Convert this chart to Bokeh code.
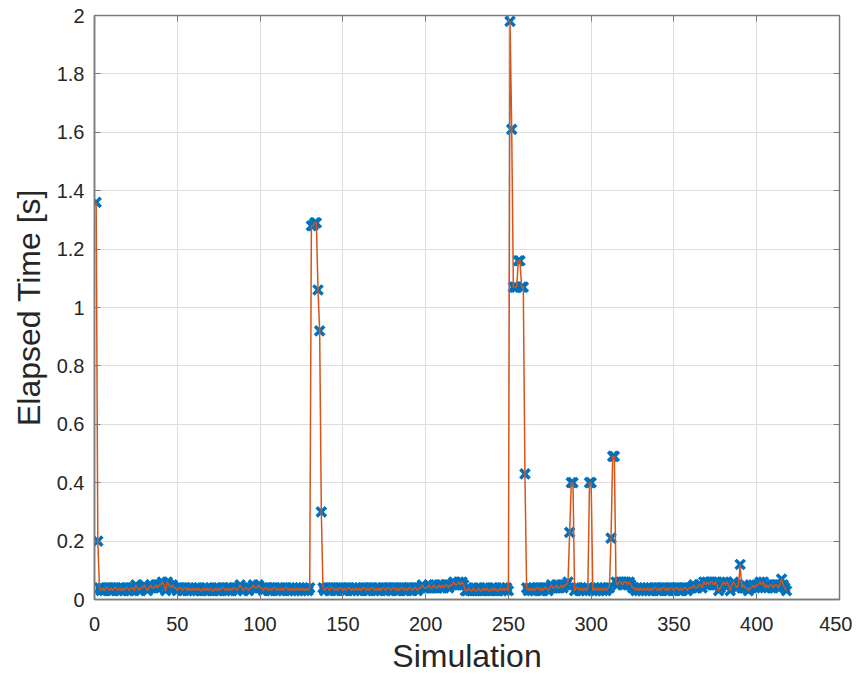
from bokeh.plotting import figure
from bokeh.models import LinearAxis, FixedTicker, NumeralTickFormatter, Range1d
from bokeh.embed import file_html
from bokeh.resources import INLINE

# Elapsed time per simulation, simulations 1..418
elapsed = [
    1.36, 0.20, 0.04, 0.03, 0.04, 0.03, 0.04, 0.04, 0.03, 0.04, 0.03, 0.04, 0.04, 0.03, 0.04, 0.03, 0.04, 0.03, 0.04, 0.04,
    0.03, 0.04, 0.04, 0.03, 0.05, 0.04, 0.03, 0.04, 0.04, 0.05, 0.04, 0.03, 0.04, 0.05, 0.04, 0.04, 0.05, 0.04, 0.05, 0.05,
    0.06, 0.05, 0.03, 0.06, 0.05, 0.04, 0.05, 0.04, 0.04, 0.03, 0.04, 0.04, 0.03, 0.04, 0.04, 0.03, 0.04, 0.03, 0.04, 0.03,
    0.04, 0.03, 0.04, 0.03, 0.03, 0.04, 0.03, 0.04, 0.03, 0.04, 0.03, 0.03, 0.04, 0.03, 0.04, 0.03, 0.04, 0.04, 0.03, 0.04,
    0.03, 0.04, 0.03, 0.04, 0.04, 0.03, 0.04, 0.05, 0.04, 0.03, 0.04, 0.04, 0.03, 0.04, 0.04, 0.05, 0.04, 0.04, 0.05, 0.04,
    0.04, 0.03, 0.04, 0.04, 0.03, 0.04, 0.03, 0.04, 0.04, 0.03, 0.04, 0.03, 0.04, 0.03, 0.04, 0.04, 0.03, 0.04, 0.03, 0.04,
    0.03, 0.04, 0.03, 0.04, 0.03, 0.04, 0.03, 0.04, 0.03, 0.04, 1.28, 1.28, 1.29, 1.29, 1.06, 0.92, 0.30, 0.04, 0.03, 0.04,
    0.04, 0.03, 0.04, 0.04, 0.03, 0.04, 0.03, 0.04, 0.04, 0.03, 0.04, 0.03, 0.04, 0.04, 0.03, 0.04, 0.03, 0.04, 0.03, 0.04,
    0.03, 0.04, 0.04, 0.03, 0.04, 0.03, 0.04, 0.04, 0.03, 0.04, 0.03, 0.04, 0.03, 0.04, 0.04, 0.03, 0.04, 0.04, 0.03, 0.04,
    0.04, 0.03, 0.04, 0.03, 0.04, 0.04, 0.03, 0.04, 0.03, 0.04, 0.04, 0.03, 0.04, 0.04, 0.03, 0.04, 0.04, 0.05, 0.04, 0.04,
    0.04, 0.05, 0.04, 0.04, 0.05, 0.04, 0.04, 0.05, 0.04, 0.05, 0.04, 0.05, 0.05, 0.04, 0.05, 0.05, 0.06, 0.05, 0.05, 0.06,
    0.05, 0.06, 0.05, 0.03, 0.03, 0.04, 0.03, 0.03, 0.04, 0.03, 0.03, 0.04, 0.03, 0.03, 0.04, 0.03, 0.04, 0.03, 0.03, 0.04,
    0.03, 0.04, 0.03, 0.03, 0.04, 0.03, 0.04, 0.03, 0.04, 0.03, 1.98, 1.61, 1.07, 1.07, 1.07, 1.16, 1.16, 1.07, 1.07, 0.43,
    0.04, 0.03, 0.04, 0.03, 0.04, 0.03, 0.04, 0.04, 0.03, 0.04, 0.03, 0.04, 0.04, 0.03, 0.04, 0.05, 0.04, 0.04, 0.05, 0.04,
    0.04, 0.05, 0.04, 0.05, 0.05, 0.06, 0.23, 0.40, 0.40, 0.03, 0.04, 0.04, 0.03, 0.04, 0.03, 0.04, 0.03, 0.04, 0.40, 0.40,
    0.03, 0.04, 0.03, 0.04, 0.03, 0.04, 0.03, 0.04, 0.03, 0.04, 0.04, 0.21, 0.49, 0.49, 0.06, 0.05, 0.06, 0.06, 0.05, 0.06,
    0.06, 0.05, 0.06, 0.05, 0.04, 0.04, 0.03, 0.04, 0.03, 0.04, 0.03, 0.04, 0.03, 0.04, 0.03, 0.04, 0.03, 0.04, 0.04, 0.03,
    0.04, 0.03, 0.04, 0.04, 0.03, 0.04, 0.03, 0.04, 0.04, 0.03, 0.04, 0.04, 0.03, 0.04, 0.03, 0.04, 0.04, 0.03, 0.04, 0.04,
    0.04, 0.05, 0.04, 0.04, 0.05, 0.05, 0.04, 0.06, 0.05, 0.06, 0.05, 0.06, 0.06, 0.05, 0.06, 0.05, 0.03, 0.04, 0.05, 0.06,
    0.05, 0.06, 0.05, 0.03, 0.05, 0.06, 0.05, 0.04, 0.05, 0.12, 0.04, 0.05, 0.04, 0.04, 0.03, 0.04, 0.04, 0.05, 0.04, 0.05,
    0.05, 0.06, 0.05, 0.06, 0.04, 0.05, 0.04, 0.05, 0.05, 0.04, 0.05, 0.05, 0.04, 0.05, 0.07, 0.05, 0.04, 0.03,
]
simulation = list(range(1, len(elapsed) + 1))

x_ticks = [0, 50, 100, 150, 200, 250, 300, 350, 400, 450]
y_ticks = [0, 0.2, 0.4, 0.6, 0.8, 1.0, 1.2, 1.4, 1.6, 1.8, 2.0]

FONT = "Liberation Sans"
AXIS_COL = "#7a7a7a"
TEXT_COL = "#262626"

p = figure(width=852, height=676, output_backend="svg", toolbar_location=None,
           x_range=Range1d(0, 450), y_range=Range1d(0, 2),
           min_border_left=94, min_border_right=13, min_border_top=15, min_border_bottom=10)
p.background_fill_color = "white"
p.border_fill_color = "white"
p.outline_line_color = AXIS_COL
p.outline_line_width = 1.5

p.scatter(simulation, elapsed, marker="x", size=13, line_width=3.5, color="#0072BD")
p.line(simulation, elapsed, line_width=1.5, color="#D95319")

for ax in (p.xaxis[0], p.yaxis[0]):
    ax.axis_line_color = AXIS_COL
    ax.axis_line_width = 1.5
    ax.major_tick_line_color = AXIS_COL
    ax.major_tick_in = 6
    ax.major_tick_out = 0
    ax.minor_tick_line_color = None
    ax.major_label_text_font = FONT
    ax.major_label_text_font_size = "20px"
    ax.major_label_text_color = TEXT_COL
    ax.axis_label_text_font = FONT
    ax.axis_label_text_font_size = "32px"
    ax.axis_label_text_font_style = "normal"
    ax.axis_label_text_color = TEXT_COL

p.xaxis[0].ticker = FixedTicker(ticks=x_ticks)
p.yaxis[0].ticker = FixedTicker(ticks=y_ticks)
p.yaxis[0].formatter = NumeralTickFormatter(format="0.[0]")
p.xaxis[0].axis_label = "Simulation"
p.yaxis[0].axis_label = "Elapsed Time [s]"
p.xaxis[0].major_label_standoff = 17
p.yaxis[0].major_label_standoff = 10
p.xaxis[0].axis_label_standoff = 4
p.yaxis[0].axis_label_standoff = 7

top = LinearAxis(ticker=FixedTicker(ticks=x_ticks), major_label_text_font_size="0px",
                 major_label_standoff=0, axis_line_color=AXIS_COL, major_tick_line_color=AXIS_COL,
                 major_tick_in=6, major_tick_out=0, minor_tick_line_color=None)
right = LinearAxis(ticker=FixedTicker(ticks=y_ticks), major_label_text_font_size="0px",
                   major_label_standoff=0, axis_line_color=AXIS_COL, major_tick_line_color=AXIS_COL,
                   major_tick_in=6, major_tick_out=0, minor_tick_line_color=None)
p.add_layout(top, "above")
p.add_layout(right, "right")

p.xgrid.grid_line_color = "#dedede"
p.ygrid.grid_line_color = "#dedede"
p.xgrid.ticker = FixedTicker(ticks=x_ticks)
p.ygrid.ticker = FixedTicker(ticks=y_ticks)

open("out.html", "w").write(file_html(p, INLINE))
